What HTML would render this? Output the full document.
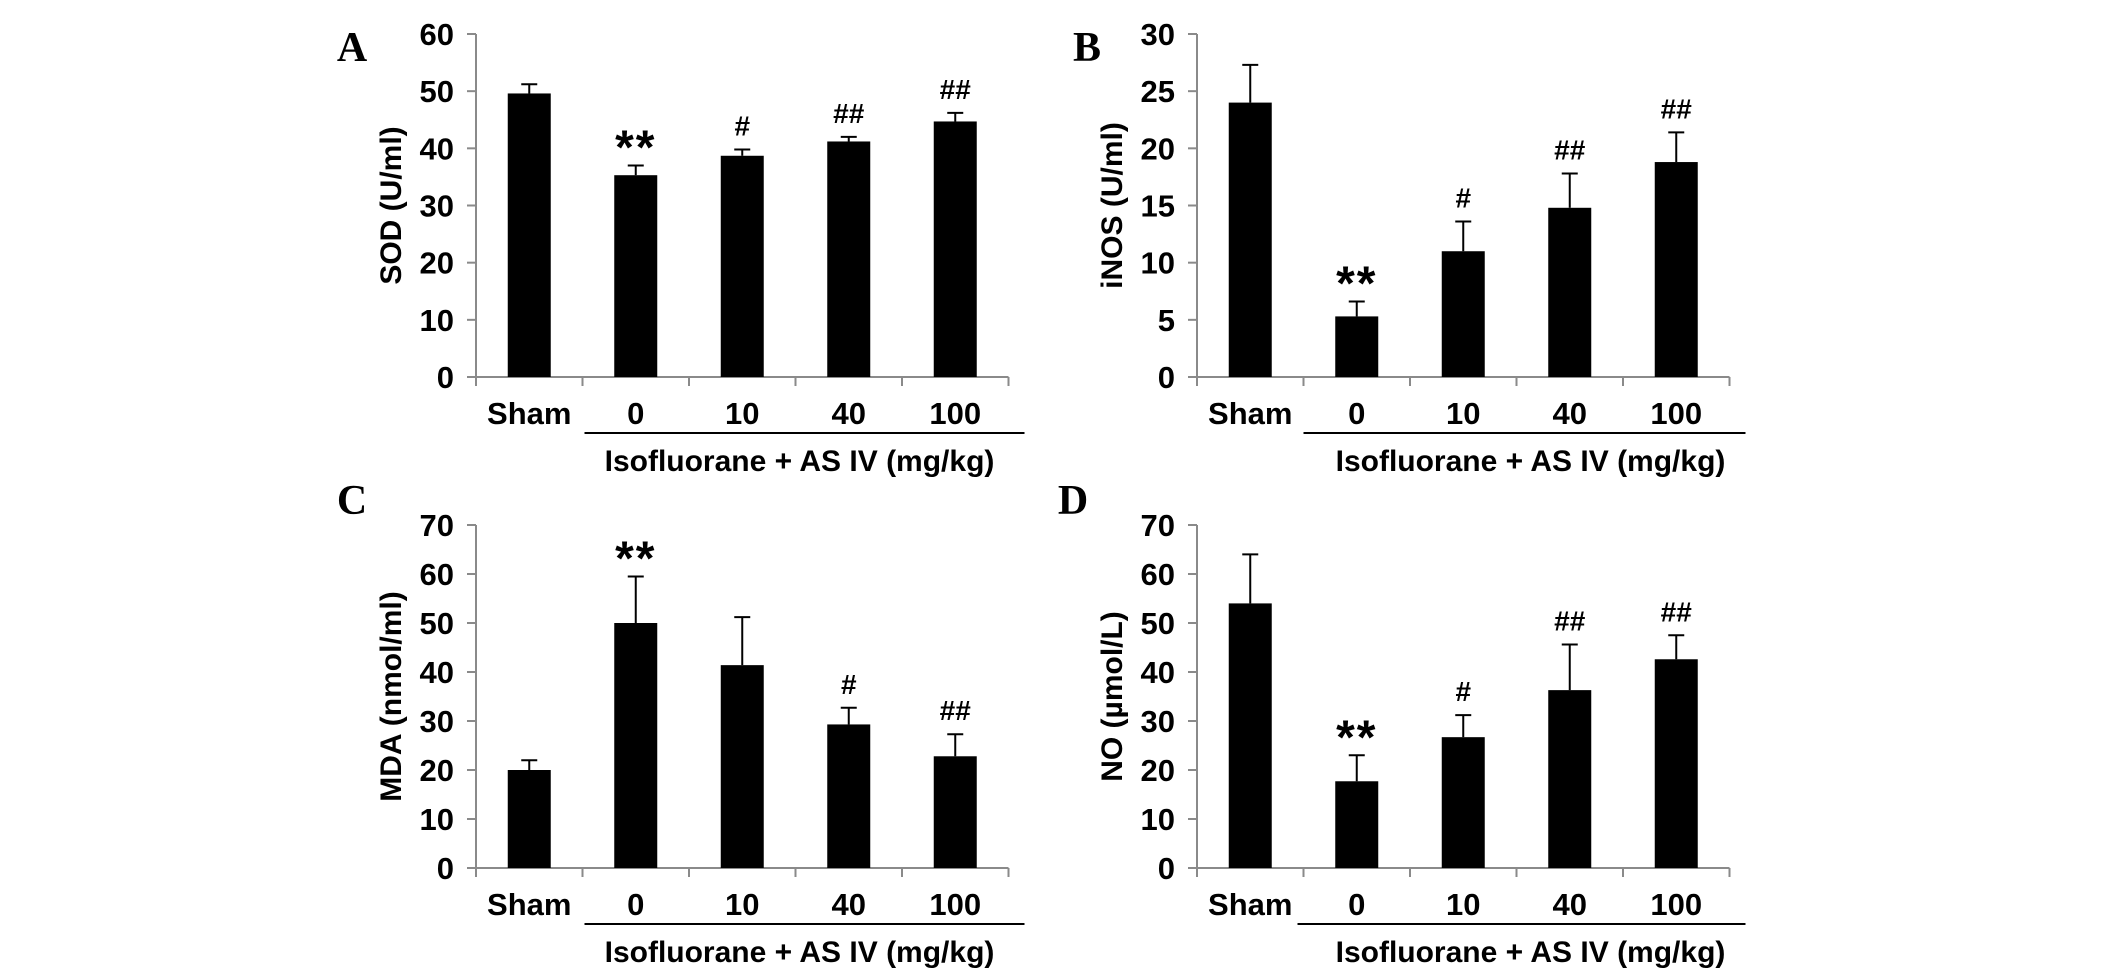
<!DOCTYPE html>
<html><head><meta charset="utf-8"><style>html,body{margin:0;padding:0;background:#fff}svg{display:block}</style></head>
<body>
<svg id="fig" width="2126" height="970" viewBox="0 0 2126 970" xmlns="http://www.w3.org/2000/svg" font-family="Liberation Sans, Arial, sans-serif"></svg>
<script>
const categories = ["Sham","0","10","40","100"];
const sodValues = [49.6,35.3,38.7,41.2,44.7];
const sodErrors = [51.2,37.0,39.8,42.0,46.2];
const sodMarks = ["","**","#","##","##"];
const sodTicks = [0,10,20,30,40,50,60];
const inosValues = [24.0,5.3,11.0,14.8,18.8];
const inosErrors = [27.3,6.6,13.6,17.8,21.4];
const inosMarks = ["","**","#","##","##"];
const inosTicks = [0,5,10,15,20,25,30];
const mdaValues = [20.0,50.0,41.4,29.3,22.8];
const mdaErrors = [22.0,59.5,51.2,32.7,27.3];
const mdaMarks = ["","**","","#","##"];
const mdaTicks = [0,10,20,30,40,50,60,70];
const noValues = [54.0,17.7,26.7,36.3,42.6];
const noErrors = [64.0,23.0,31.2,45.6,47.5];
const noMarks = ["","**","#","##","##"];
const noTicks = [0,10,20,30,40,50,60,70];

const svg = document.getElementById('fig');
const NS = 'http://www.w3.org/2000/svg';
function mk(tag, attrs, parent){const e=document.createElementNS(NS,tag);for(const k in attrs)e.setAttribute(k,attrs[k]);(parent||svg).appendChild(e);return e;}

function panel(p){
  const g = mk('g',{});
  
  
  const ax = p.ax, y0 = p.y0, y1 = p.y1, cw = 106.5;
  const maxT = p.ticks[p.ticks.length-1];
  const ys = v => y0 - (v/maxT)*(y0-y1);
  const xs = i => ax + cw*(i+0.5);
  const L = mk('text',{x:p.lx,y:p.ly+14,'font-family':'Liberation Serif, serif','font-weight':'bold','font-size':42,'text-anchor':'middle'},g);
  L.textContent = p.letter;
  
  
  const yl = mk('line',{x1:ax,y1:y1,x2:ax,y2:y0,stroke:'#8a8a8a','stroke-width':2},g);
  
  
  p.ticks.forEach(t=>{
    const y = ys(t);
    mk('line',{x1:ax-9,y1:y,x2:ax,y2:y,stroke:'#8a8a8a','stroke-width':2},g);
    const tl = mk('text',{x:ax-22,y:y+11,'font-size':31,'font-weight':'bold','text-anchor':'end'},g);
    tl.textContent = t;
    
    
  });
  const yt = mk('text',{x:0,y:0,'font-size':30,'font-weight':'bold','text-anchor':'middle',transform:`translate(${ax-75},${(y0+y1)/2}) rotate(-90)`},g);
  yt.textContent = p.title;
  
  
  const xl = mk('line',{x1:ax,y1:y0,x2:ax+cw*5,y2:y0,stroke:'#8a8a8a','stroke-width':2},g);
  
  
  for(let i=0;i<=5;i++) mk('line',{x1:ax+cw*i,y1:y0,x2:ax+cw*i,y2:y0+9,stroke:'#8a8a8a','stroke-width':2},g);
  categories.forEach((c,i)=>{
    const x = xs(i);
    const bw = 43;
    const top = ys(p.values[i]), et = ys(p.errors[i]);
    const er = mk('line',{x1:x,y1:et,x2:x,y2:top,stroke:'#000','stroke-width':2},g);
    
    
    mk('line',{x1:x-8,y1:et,x2:x+8,y2:et,stroke:'#000','stroke-width':2},g);
    const b = mk('rect',{x:x-bw/2,y:top,width:bw,height:y0-top,fill:'#000'},g);
    
    
    if(p.marks[i]){
      const star = p.marks[i]==='**';
      const m = mk('text',{x:x,y:star?et-2:et-14,'font-size':star?48:28,'font-weight':'bold','text-anchor':'middle','letter-spacing':star?2:0},g);
      m.textContent = p.marks[i];
      
      
    }
    const cl = mk('text',{x:x,y:y0+47,'font-size':31,'font-weight':'bold','text-anchor':'middle'},g);
    cl.textContent = c;
    
    
  });
  const ul = mk('line',{x1:ax+cw+p.ulOff,y1:y0+56,x2:ax+cw*5+16,y2:y0+56,stroke:'#000','stroke-width':2},g);
  
  
  const gt = mk('text',{x:ax+cw*3+14+p.tOff,y:y0+94,'font-size':30,'font-weight':'bold','text-anchor':'middle'},g);
  gt.textContent = 'Isofluorane + AS IV (mg/kg)';
  
  
}
panel({letter:'A',lx:352,ly:47,ax:476,y0:377,y1:34,ulOff:2,tOff:-10,ticks:sodTicks,values:sodValues,errors:sodErrors,marks:sodMarks,title:'SOD (U/ml)'});
panel({letter:'B',lx:1087,ly:47,ax:1197,y0:377,y1:34,ulOff:0,tOff:0,ticks:inosTicks,values:inosValues,errors:inosErrors,marks:inosMarks,title:'iNOS (U/ml)'});
panel({letter:'C',lx:352,ly:500,ax:476,y0:868,y1:525,ulOff:2,tOff:-10,ticks:mdaTicks,values:mdaValues,errors:mdaErrors,marks:mdaMarks,title:'MDA (nmol/ml)'});
panel({letter:'D',lx:1073,ly:500,ax:1197,y0:868,y1:525,ulOff:-6,tOff:0,ticks:noTicks,values:noValues,errors:noErrors,marks:noMarks,title:'NO (µmol/L)'});
</script>
</body></html>
